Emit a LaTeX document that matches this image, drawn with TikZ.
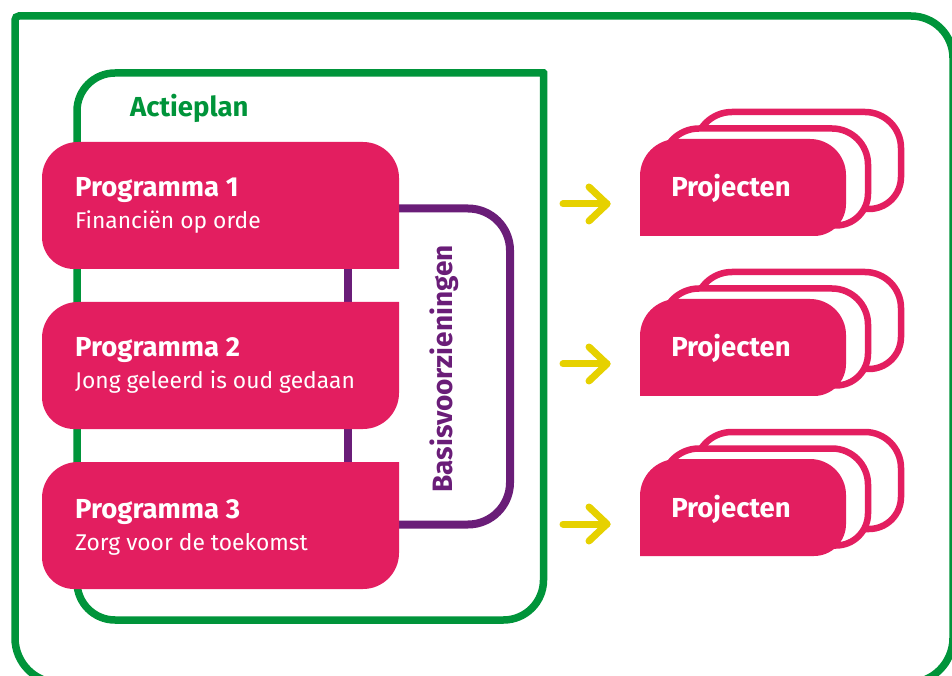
\documentclass[tikz,border=0pt]{standalone}
\usepackage{fontspec}
\setmainfont{Fira Sans}
\definecolor{pk}{HTML}{E31E60}
\definecolor{gr}{HTML}{00943A}
\definecolor{pu}{HTML}{6A1D78}
\definecolor{ye}{HTML}{E6D100}
% rounded box: x1 y1 x2 y2 rTL rTR rBR rBL
\newcommand{\myrbox}[8]{(#1,#2+#8) -- (#1,#4-#5) arc[start angle=180,end angle=90,radius=#5] -- (#3-#6,#4) arc[start angle=90,end angle=0,radius=#6] -- (#3,#2+#7) arc[start angle=0,end angle=-90,radius=#7] -- (#1+#8,#2) arc[start angle=270,end angle=180,radius=#8] -- cycle}
\begin{document}
\begin{tikzpicture}[x=1pt,y=1pt,
  greenline/.style={draw=gr,line width=7.5pt},
  purpleline/.style={draw=pu,line width=8pt},
  progbox/.style={fill=pk},
  projback/.style={fill=white,draw=pk,line width=6.5pt},
  projfront/.style={fill=pk},
  arrowline/.style={draw=ye,line width=7pt,line cap=round,line join=round},
  ttl/.style={font=\bfseries\fontsize{27.5}{32}\selectfont,text=white,anchor=base west,inner sep=0pt},
  subttl/.style={font=\fontsize{22.8}{28}\selectfont,text=white,anchor=base west,inner sep=0pt},
  projttl/.style={font=\bfseries\fontsize{27.5}{32}\selectfont,text=white,anchor=base,inner sep=0pt}
]
\useasboundingbox (0,0) rectangle (952,675);
\clip (0,0) rectangle (952,675);
% outer frame
\path[greenline] \myrbox{15}{-8}{953}{659}{4}{42}{45}{45};
% Actieplan frame
\path[greenline] \myrbox{77}{55}{543.5}{602}{38}{0.01}{40}{38};
\node[font=\bfseries\fontsize{27.5}{32}\selectfont,text=gr,anchor=base west,inner sep=0pt] (actieplan) at (130,558) {Actieplan};
% Basisvoorzieningen bracket
\coordinate (bt) at (399,466.5);
\coordinate (bb) at (399,150.5);
\path[purpleline] (bt) -- (468,466.5) arc[start angle=90,end angle=0,radius=42] -- (510,192.5) arc[start angle=0,end angle=-90,radius=42] -- (bb);
\path[purpleline] (348,466.5) -- (348,150.5);
\node[font=\bfseries\fontsize{28}{32}\selectfont,text=pu,rotate=90,anchor=base,inner sep=0pt] (basis) at (452,306) {Basisvoorzieningen};
% programma boxes
\path[progbox] \myrbox{42}{406}{399}{533}{36}{36}{0.01}{32};
\path[progbox] \myrbox{42}{246}{399}{373}{36}{0.01}{36}{32};
\path[progbox] \myrbox{42}{86}{399}{213}{36}{0.01}{36}{32};
\node[ttl] (p1) at (75,478) {Programma 1};
\node[subttl] (s1) at (75,446) {Financiën op orde};
\node[ttl] (p2) at (75,318) {Programma 2};
\node[subttl] (s2) at (75,286) {Jong geleerd is oud gedaan};
\node[ttl] (p3) at (75,157) {Programma 3};
\node[subttl] (s3) at (75,125) {Zorg voor de toekomst};
% projecten stacks and arrows
\foreach \i/\d in {1/0,2/160,3/320}{
  \path[projback] \myrbox{695}{466-\d}{901}{563-\d}{37}{36}{32}{0.01};
  \path[projback] \myrbox{662}{449.5-\d}{868}{546.5-\d}{37}{36}{32}{0.01};
  \path[projfront] \myrbox{640}{439-\d}{846}{536-\d}{37}{36}{32}{0.01};
  \node[projttl] (proj\i) at (731,478-\d) {Projecten};
  \coordinate (as\i) at (563,471-\d);
  \coordinate (at\i) at (607,471-\d);
  \coordinate (au\i) at (589,488-\d);
  \coordinate (al\i) at (589,454-\d);
  \path[arrowline] (as\i) -- (at\i);
  \path[arrowline] (au\i) -- (at\i) -- (al\i);
}
\end{tikzpicture}
\end{document}
